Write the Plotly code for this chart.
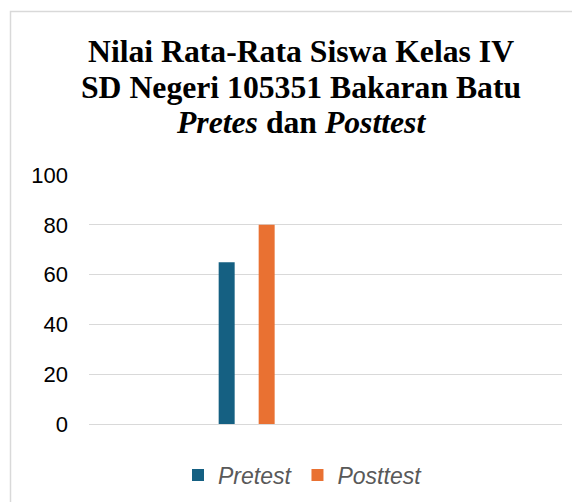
import plotly.graph_objects as go

# Data
series_names = ["Pretest", "Posttest"]
series_values = [65, 80]
series_colors = ["#156082", "#E97132"]
category = ["Nilai Rata-Rata"]
y_ticks = [0, 20, 40, 60, 80, 100]

title_lines = [
    "<b>Nilai Rata-Rata Siswa Kelas IV</b>",
    "<b>SD Negeri 105351 Bakaran Batu</b>",
    "<b><i>Pretes</i> dan <i>Posttest</i></b>",
]

# the page body has an 8px margin; work in screen pixels and shift
OFF = 8
W, H = 580 - OFF, 502 - OFF
ML, MR, MT, MB = 89 - OFF, 18, 175 - OFF, 78
PW, PH = W - ML - MR, H - MT - MB


def px_x(x):
    return (x - OFF - ML) / PW


def px_y(y):
    return (H - MB - (y - OFF)) / PH


fig = go.Figure()
for name, val, col in zip(series_names, series_values, series_colors):
    fig.add_trace(go.Bar(name="<i>" + name + "</i>", x=category, y=[val],
                         marker=dict(color=col, line=dict(width=0))))

annotations = []
for line, yc in zip(title_lines, [51.5, 87, 122.5]):
    annotations.append(dict(
        text=line, x=px_x(301), y=px_y(yc), xref="paper", yref="paper",
        xanchor="center", yanchor="middle", showarrow=False,
        font=dict(family="Liberation Serif", size=31.7, color="#000000"),
    ))

fig.update_layout(
    width=W, height=H,
    margin=dict(l=ML, r=MR, t=MT, b=MB, pad=0, autoexpand=False),
    paper_bgcolor="white", plot_bgcolor="white",
    barmode="group", bargap=0.239, bargroupgap=0.6,
    annotations=annotations,
    showlegend=True,
    legend=dict(
        orientation="h", x=px_x(303), y=px_y(475), xanchor="center", yanchor="middle",
        font=dict(family="Liberation Sans", size=23, color="#595959"),
        itemclick=False, bgcolor="rgba(0,0,0,0)",
    ),
    shapes=[dict(
        type="rect", xref="paper", yref="paper",
        x0=px_x(10.5), x1=px_x(640), y0=px_y(560), y1=px_y(11.5),
        line=dict(color="#D9D9D9", width=1.5), fillcolor="rgba(0,0,0,0)", layer="below",
    )],
)

fig.update_xaxes(range=[-1.5, 3], showticklabels=False, showgrid=False, zeroline=False,
                 showline=False, ticks="", fixedrange=True, automargin=False)
fig.update_yaxes(range=[0, 100], tickvals=y_ticks, showgrid=True, gridcolor="#D9D9D9", gridwidth=1.3,
                 zeroline=True, zerolinecolor="#D9D9D9", zerolinewidth=1.3, showline=False, ticks="",
                 ticklabelstandoff=20, automargin=False,
                 tickfont=dict(family="Liberation Sans", size=22, color="#000000"), fixedrange=True)

fig.write_html("out.html")
